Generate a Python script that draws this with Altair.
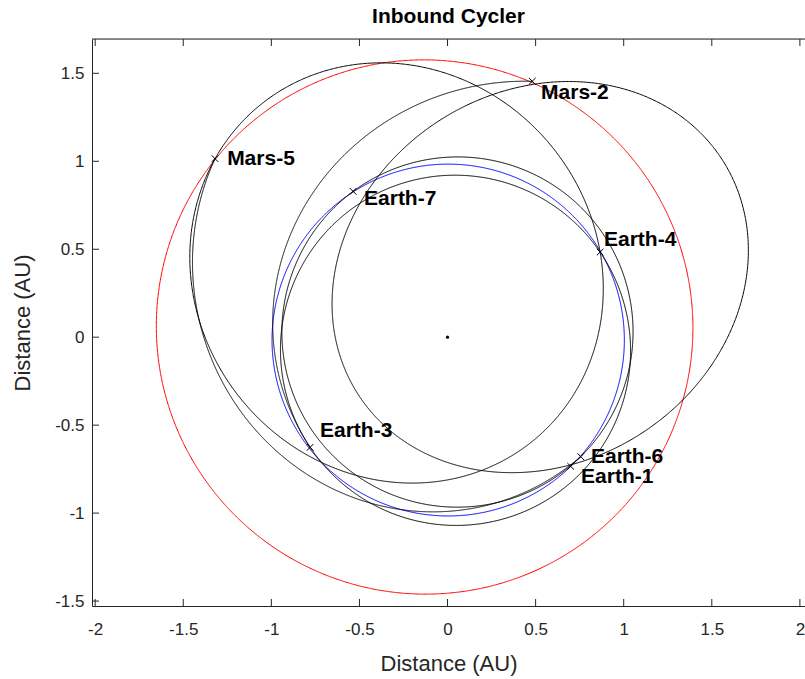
import numpy as np
import pandas as pd
import altair as alt

# ---- orbits: conic about the Sun, 1/r = (1 + e*cos(theta - w)) / p ----
orbit_names = ["Earth", "Mars", "Leg 1", "Leg 2", "Leg 3", "Leg 4", "Leg 5", "Leg 6"]
orbit_p = [0.99972, 1.5107, 0.910, 1.2758, 0.9888, 1.0523, 1.2695, 0.9930]   # semi-latus rectum [AU]
orbit_e = [0.0167, 0.0934, 0.510, 0.2998, 0.0876, 0.3791, 0.2939, 0.0637]   # eccentricity
orbit_w = [103.0, 336.0, 213.0, 195.6, 121.3, -51.6, -73.7, 207.4]          # longitude of perihelion [deg]
orbit_from = [0.0, 0.0, 0.0, 71.7, 0.0, 0.0, 142.4, 0.0]                    # drawn longitude span [deg]
orbit_to = [360.0, 360.0, 360.0, 218.7, 360.0, 360.0, 318.1, 360.0]
orbit_kind = ["Earth", "Mars", "Cycler", "Cycler", "Cycler", "Cycler", "Cycler", "Cycler"]

# ---- encounters ----
enc_names = ["Earth-1", "Mars-2", "Earth-3", "Earth-4", "Mars-5", "Earth-6", "Earth-7"]
enc_x = [0.699, 0.481, -0.780, 0.866, -1.320, 0.756, -0.536]
enc_y = [-0.734, 1.455, -0.626, 0.484, 1.015, -0.679, 0.829]
label_x = [0.758, 0.531, -0.724, 0.888, -1.251, 0.814, -0.474]
label_y = [-0.795, 1.386, -0.536, 0.552, 1.011, -0.682, 0.783]

sun_x = [0.0]
sun_y = [0.0]

title_text = "Inbound Cycler"
x_ticks = [-2, -1.5, -1, -0.5, 0, 0.5, 1, 1.5, 2]
y_ticks = [-1.5, -1, -0.5, 0, 0.5, 1, 1.5]
x_domain = [-2.018, 2.029]
y_domain = [-1.528, 1.695]

W, H = 713, 567
FONT = "Liberation Sans"
AXIS_GRAY = "#262626"

rows = []
for name, p, e, w, t0, t1, kind in zip(orbit_names, orbit_p, orbit_e, orbit_w,
                                       orbit_from, orbit_to, orbit_kind):
    th = np.radians(np.linspace(t0, t1, 1441))
    r = p / (1.0 + e * np.cos(th - np.radians(w)))
    for i, (t, rr) in enumerate(zip(th, r)):
        rows.append({"orbit": name, "kind": kind, "i": i,
                     "x": rr * np.cos(t), "y": rr * np.sin(t)})
orbits = pd.DataFrame(rows)

enc = pd.DataFrame({"name": enc_names, "x": enc_x, "y": enc_y,
                    "lx": label_x, "ly": label_y})
sun = pd.DataFrame({"x": sun_x, "y": sun_y})
head = pd.DataFrame({"t": [title_text]})
xt = pd.DataFrame({"v": x_ticks})
yt = pd.DataFrame({"v": y_ticks})

xs = alt.Scale(domain=x_domain, nice=False, zero=False)
ys = alt.Scale(domain=y_domain, nice=False, zero=False)

x_axis = alt.Axis(values=x_ticks, labelExpr="'' + datum.value", grid=False,
                  ticks=False, tickSize=0, domainColor=AXIS_GRAY, domainWidth=1,
                  labelColor=AXIS_GRAY, labelFont=FONT, labelFontSize=17,
                  labelPadding=15, title="Distance (AU)", titleFont=FONT,
                  titleFontSize=22, titleFontWeight="normal", titleColor=AXIS_GRAY,
                  titleY=57, titleBaseline="middle")
y_axis = alt.Axis(values=y_ticks, labelExpr="'' + datum.value", grid=False,
                  ticks=False, tickSize=0, domainColor=AXIS_GRAY, domainWidth=1,
                  labelColor=AXIS_GRAY, labelFont=FONT, labelFontSize=17,
                  labelPadding=8, title="Distance (AU)", titleFont=FONT,
                  titleFontSize=22, titleFontWeight="normal", titleColor=AXIS_GRAY,
                  titleX=-70, titleY=H / 2, titleBaseline="middle")

lines = alt.Chart(orbits).mark_line(strokeWidth=1, clip=True).encode(
    x=alt.X("x:Q", scale=xs, axis=x_axis),
    y=alt.Y("y:Q", scale=ys, axis=y_axis),
    detail="orbit:N",
    order="i:Q",
    color=alt.Color("kind:N", legend=None,
                    scale=alt.Scale(domain=["Cycler", "Earth", "Mars"],
                                    range=["#000000", "#0000FF", "#FF0000"])),
)

markers = alt.Chart(enc).mark_point(
    shape="M-1,-1L1,1M-1,1L1,-1", size=45, strokeWidth=1, color="black",
    filled=False, opacity=1).encode(x=alt.X("x:Q", scale=xs), y=alt.Y("y:Q", scale=ys))

labels = alt.Chart(enc).mark_text(
    align="left", baseline="middle", font=FONT, fontSize=21, fontWeight="bold",
    color="black").encode(x=alt.X("lx:Q", scale=xs), y=alt.Y("ly:Q", scale=ys),
                          text="name:N")

sun_dot = alt.Chart(sun).mark_point(filled=True, size=10, color="black", opacity=1).encode(
    x=alt.X("x:Q", scale=xs), y=alt.Y("y:Q", scale=ys))

heading = alt.Chart(head).mark_text(
    align="center", baseline="middle", font=FONT, fontSize=21, fontWeight="bold",
    color="black").encode(x=alt.value(W / 2), y=alt.value(-22), text="t:N")

# inward tick marks on bottom, top and left edges, plus the top frame line
tick_len = 7
bottom_ticks = alt.Chart(xt).mark_rule(color=AXIS_GRAY, strokeWidth=1).encode(
    x=alt.X("v:Q", scale=xs), y=alt.value(H), y2=alt.value(H - tick_len))
top_ticks = alt.Chart(xt).mark_rule(color=AXIS_GRAY, strokeWidth=1).encode(
    x=alt.X("v:Q", scale=xs), y=alt.value(0), y2=alt.value(tick_len))
left_ticks = alt.Chart(yt).mark_rule(color=AXIS_GRAY, strokeWidth=1).encode(
    y=alt.Y("v:Q", scale=ys), x=alt.value(0), x2=alt.value(tick_len))
top_frame = alt.Chart(sun).mark_rule(color=AXIS_GRAY, strokeWidth=1).encode(
    x=alt.value(0), x2=alt.value(W), y=alt.value(0))

chart = alt.layer(lines, sun_dot, markers, labels, heading, bottom_ticks, top_ticks,
                  left_ticks, top_frame).properties(
    width=W, height=H,
    autosize=alt.AutoSizeParams(type="none"),
    padding={"left": 92, "top": 39, "right": 0, "bottom": 73},
).configure_view(stroke=None).configure(background="white")

chart.save("out.html", embed_options={"renderer": "svg", "actions": False})
